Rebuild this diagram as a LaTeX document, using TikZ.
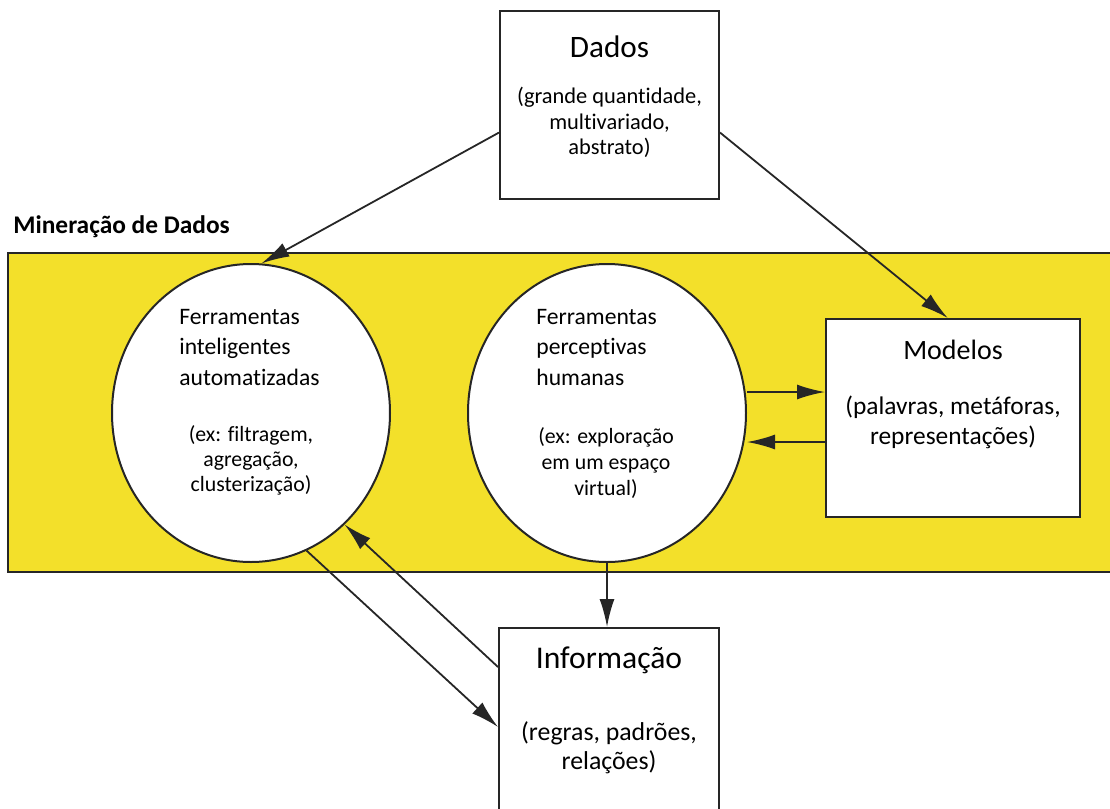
\documentclass[tikz,border=0pt]{standalone}
\usepackage{fontspec}
\setmainfont{Carlito}[Ligatures=NoCommon]
\usetikzlibrary{arrows.meta}
\usetikzlibrary{positioning}
\usetikzlibrary{shapes.geometric}
\definecolor{minyellow}{RGB}{243,224,42}
\definecolor{ink}{RGB}{38,38,38}
\tikzset{box/.style = {draw=ink, line width=1pt, fill=white, inner sep=0}}
\tikzset{tool/.style = {draw=ink, line width=1pt, fill=white, ellipse,
                        minimum width=139pt, minimum height=149pt, inner sep=0}}
\tikzset{link/.style = {draw=ink, line width=0.9pt, -{Latex[length=14pt,width=7.5pt]}}}
\tikzset{title/.style = {inner sep=0, font=\fontsize{15.6}{19}\selectfont}}
\tikzset{sub/.style = {inner sep=0, align=center}}

\begin{document}
\begin{tikzpicture}[x=0.5pt, y=-0.5pt]
    \useasboundingbox (0, 0) rectangle (1110, 809);
    \clip (0, 0) rectangle (1110, 809);

    % faixa da mineracao
    \draw [draw=ink, line width=1pt, fill=minyellow] (8, 253) rectangle (1125, 572);
    \node [anchor=west, inner sep=0, font=\fontsize{12.7}{15}\selectfont\bfseries] (mineracao) at (13, 227) {Mineração de Dados};

    % caixas
    \node [box, minimum width=109.5pt, minimum height=94pt] (dados) at (609.5, 105) {};
    \node [title] (dadosT) at (609.5, 47) {Dados};
    \node [sub, font=\fontsize{11.2}{12.8}\selectfont] (dadosS) at (609.5, 122.5)
      {(grande quantidade,\\ multivariado,\\ abstrato)};

    \node [box, minimum width=127pt, minimum height=99pt] (modelos) at (953, 418) {};
    \node [title, font=\fontsize{14}{17}\selectfont] (modelosT) at (953, 350) {Modelos};
    \node [sub, font=\fontsize{12.7}{15}\selectfont] (modelosS) at (953, 422)
      {(palavras, metáforas,\\ representações)};

    \node [box, minimum width=110pt, minimum height=96pt] (info) at (609, 724) {};
    \node [title, font=\fontsize{15.8}{19}\selectfont] (infoT) at (609, 660) {Informação};
    \node [sub, font=\fontsize{12.9}{14.5}\selectfont] (infoS) at (609, 747.5)
      {(regras, padrões,\\ relações)};

    % ferramentas
    \node [tool] (auto) at (251, 413) {};
    \node [anchor=west, inner sep=0, align=left, font=\fontsize{11.8}{15.2}\selectfont] (autoT) at (179, 347.5)
      {Ferramentas\\ inteligentes\\ automatizadas};
    \node [sub, font=\fontsize{10.9}{12.5}\selectfont] (autoS) at (251, 460)
      {(ex: filtragem,\\ agregação,\\ clusterização)};

    \node [tool] (perc) at (607, 413) {};
    \node [anchor=west, inner sep=0, align=left, font=\fontsize{11.8}{15.2}\selectfont] (percT) at (536, 347.5)
      {Ferramentas\\ perceptivas\\ humanas};
    \node [sub, font=\fontsize{10.9}{12.8}\selectfont] (percS) at (606, 463)
      {(ex: exploração\\ em um espaço\\ virtual)};

    % setas
    \draw [link] (dados.194) -- (auto.86);
    \draw [link] (dados.-14) -- (modelos.93);
    \draw [link] ([yshift=10.5pt]perc.east) -- ([yshift=10.5pt]perc.east -| modelos.west);
    \draw [link] ([yshift=-14.5pt]perc.east -| modelos.west) -- ([yshift=-14.5pt]perc.east);
    \draw [link] (perc.south) -- (perc.south |- info.north);
    \draw [link] (auto.-68) -- ([yshift=-1.5pt]info.west);
    \draw [link] ([yshift=28.5pt]info.west) -- (auto.-50);
  \end{tikzpicture}
\end{document}
